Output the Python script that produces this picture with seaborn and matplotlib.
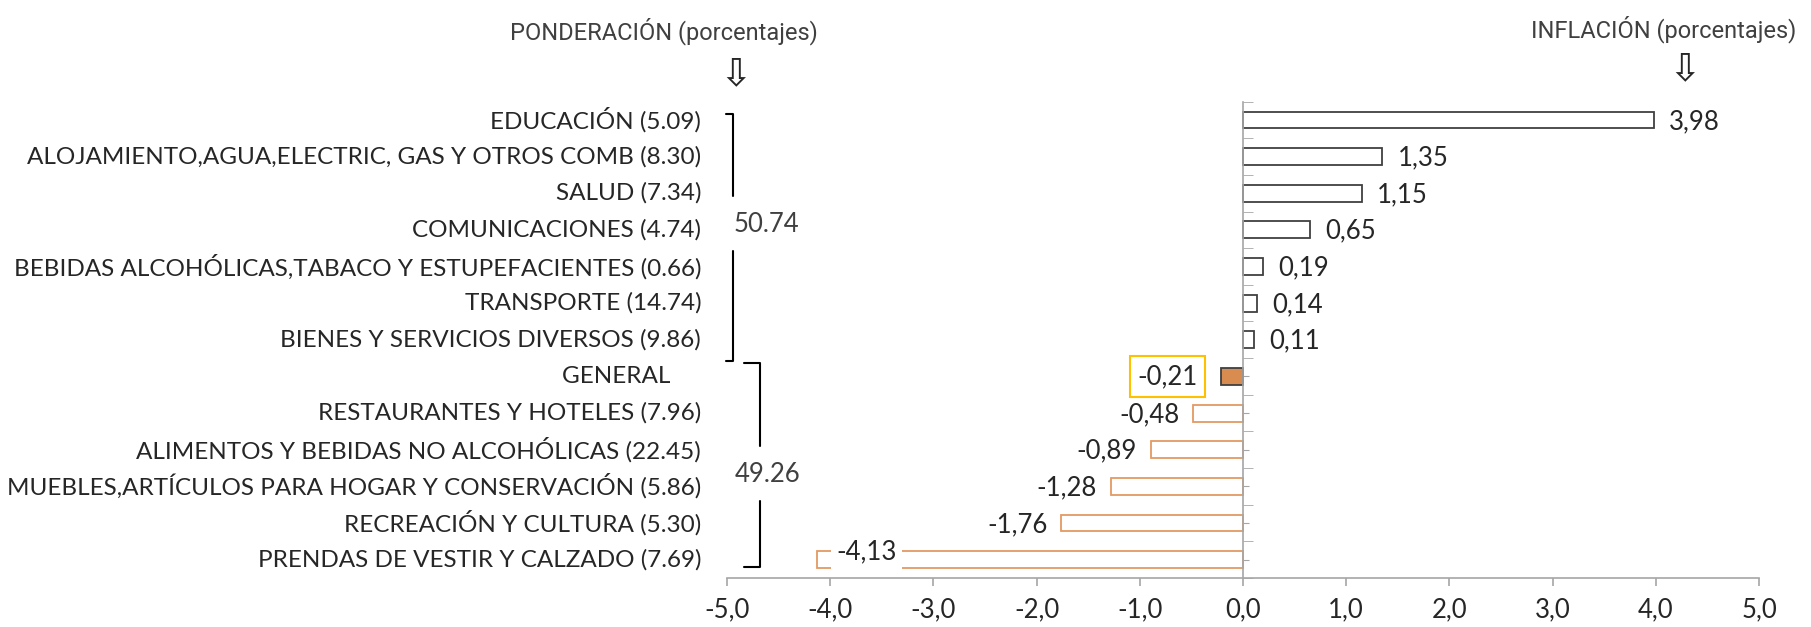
import matplotlib
matplotlib.use("Agg")
import matplotlib.pyplot as plt
import matplotlib.transforms as mtransforms
import pandas as pd
import seaborn as sns

# Datos
categorias = [
    "EDUCACIÓN", "ALOJAMIENTO,AGUA,ELECTRIC, GAS Y OTROS COMB", "SALUD",
    "COMUNICACIONES", "BEBIDAS ALCOHÓLICAS,TABACO Y ESTUPEFACIENTES",
    "TRANSPORTE", "BIENES Y SERVICIOS DIVERSOS", "GENERAL",
    "RESTAURANTES Y HOTELES", "ALIMENTOS Y BEBIDAS NO ALCOHÓLICAS",
    "MUEBLES,ARTÍCULOS PARA HOGAR Y CONSERVACIÓN", "RECREACIÓN Y CULTURA",
    "PRENDAS DE VESTIR Y CALZADO",
]
ponderacion = ["5.09", "8.30", "7.34", "4.74", "0.66", "14.74", "9.86", "",
               "7.96", "22.45", "5.86", "5.30", "7.69"]
inflacion = [3.98, 1.35, 1.15, 0.65, 0.19, 0.14, 0.11, -0.21,
             -0.48, -0.89, -1.28, -1.76, -4.13]
valor_txt = ["3,98", "1,35", "1,15", "0,65", "0,19", "0,14", "0,11", "-0,21",
             "-0,48", "-0,89", "-1,28", "-1,76", "-4,13"]
xticks = [-5, -4, -3, -2, -1, 0, 1, 2, 3, 4, 5]
xtick_labels = ["-5,0", "-4,0", "-3,0", "-2,0", "-1,0", "0,0", "1,0", "2,0", "3,0", "4,0", "5,0"]
grupos = ["50.74", "49.26"]

etiquetas = [c + (" (" + p + ")" if p else "     ") for c, p in zip(categorias, ponderacion)]
df = pd.DataFrame({"etiqueta": etiquetas, "inflacion": inflacion})

sns.set_style("white")
plt.rcParams["font.family"] = ["Lato", "DejaVu Sans"]

fig = plt.figure(figsize=(18.11, 6.27), dpi=100)
ax = fig.add_axes([0.4014, 0.0782, 0.5699, 0.7597])

sns.barplot(data=df, x="inflacion", y="etiqueta", orient="h", width=0.46,
            color="white", ax=ax)

gris = "#A6A6A6"
for patch, v, c in zip(ax.patches, inflacion, categorias):
    patch.set_linewidth(1.3)
    if c == "GENERAL":
        patch.set_facecolor("#D98C4F")
        patch.set_edgecolor("#404040")
    elif v >= 0:
        patch.set_facecolor("white")
        patch.set_edgecolor("#404040")
    else:
        patch.set_facecolor("white")
        patch.set_edgecolor("#E39A62")

ax.set_xlim(-5, 5)
ax.set_ylim(len(categorias) - 0.5, -0.5)
ax.set_xlabel("")
ax.set_ylabel("")

# ejes
ax.spines["left"].set_position(("data", 0))
ax.spines["left"].set_color(gris)
ax.spines["bottom"].set_color(gris)
ax.spines["left"].set_linewidth(1.2)
ax.spines["bottom"].set_linewidth(1.2)
ax.spines["top"].set_visible(False)
ax.spines["right"].set_visible(False)

ax.set_yticks(range(len(categorias)))
ax.set_yticks([i - 0.5 for i in range(len(categorias) + 1)], minor=True)
ax.tick_params(axis="y", which="major", direction="in", length=4.5, color=gris,
               labelleft=False, left=True)
ax.tick_params(axis="y", which="minor", direction="in", length=7, color=gris, left=True)
ax.set_xticks(xticks)
ax.set_xticklabels(xtick_labels)
ax.tick_params(axis="x", direction="out", length=6, color=gris, width=1.2,
               labelsize=18.5, pad=8, bottom=True)

# etiquetas de categoria
trans = mtransforms.blended_transform_factory(ax.transAxes, ax.transData)
for i, e in enumerate(etiquetas):
    ax.text(-0.025, i, e, ha="right", va="center", fontsize=17.5, transform=trans)

# etiquetas de valores
for i, (v, t) in enumerate(zip(inflacion, valor_txt)):
    if categorias[i] == "GENERAL":
        ax.annotate(t, (v, i), xytext=(-17, 0), textcoords="offset points",
                    ha="right", va="center", fontsize=18.5,
                    bbox=dict(boxstyle="square,pad=0.3", fc="white", ec="#FFC000", lw=1.5))
    elif v <= -4:
        ax.annotate(t, (v, i), xytext=(36, 6), textcoords="offset points",
                    ha="center", va="center", fontsize=18.5,
                    bbox=dict(boxstyle="square,pad=0.2", fc="white", ec="none"))
    elif v >= 0:
        ax.annotate(t, (v, i), xytext=(11, -1), textcoords="offset points",
                    ha="left", va="center", fontsize=18.5)
    else:
        ax.annotate(t, (v, i), xytext=(-10, -1), textcoords="offset points",
                    ha="right", va="center", fontsize=18.5)

# llaves de agrupacion
def llave(x, x_gancho, y0, y1, g0, g1, texto, tx, ty):
    kw = dict(color="black", lw=1.5, transform=trans, clip_on=False)
    ax.plot([x_gancho, x, x], [y0, y0, g0], **kw)
    ax.plot([x, x, x_gancho], [g1, y1, y1], **kw)
    ax.text(tx, ty, texto, ha="center", va="center", fontsize=18.5,
            color="#404040", transform=trans)

llave(0.0058, -0.001, -0.16, 6.59, 2.07, 3.57, grupos[0], 0.0378, 2.86)
llave(0.032, 0.0165, 6.62, 12.2, 8.91, 10.41, grupos[1], 0.0397, 9.67)

# encabezados
enc = ["Roboto", "DejaVu Sans"]
fig.text(664 / 1811, 1 - 31 / 627, "PONDERACIÓN (porcentajes)", ha="center", va="center",
         fontsize=17, family=enc, color="#404040")
fig.text(1664 / 1811, 1 - 29 / 627, "INFLACIÓN (porcentajes)", ha="center", va="center",
         fontsize=17, family=enc, color="#404040")
fig.text(736 / 1811, 1 - 74 / 627, "⇩", ha="center", va="center", fontsize=28,
         family="DejaVu Sans")
fig.text(1685 / 1811, 1 - 69 / 627, "⇩", ha="center", va="center", fontsize=28,
         family="DejaVu Sans")

fig.savefig("out.png", dpi=100)
